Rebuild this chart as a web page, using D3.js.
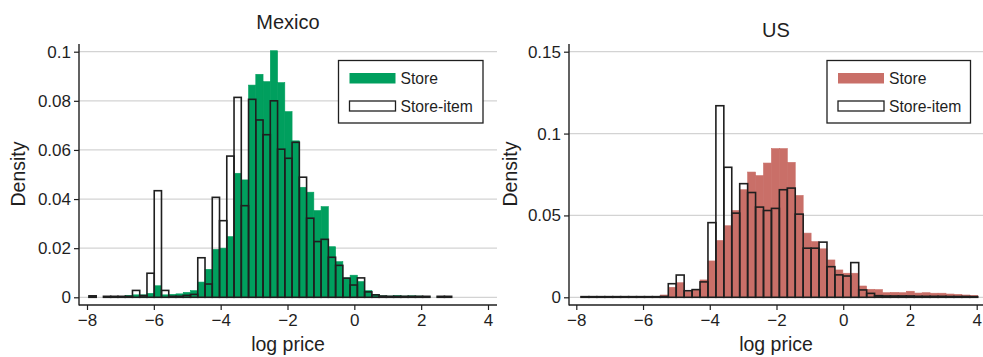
<!DOCTYPE html>
<html>
<head>
<meta charset="utf-8">
<script src="https://cdn.jsdelivr.net/npm/d3@7"></script>
<style>
  html, body { margin: 0; padding: 0; background: #fff; }
  svg { display: block; font-family: "Liberation Sans", Arial, Helvetica, sans-serif; }
</style>
</head>
<body>
<svg id="chart" width="983" height="357"></svg>
<script>
// ---- data: log-price histograms (density per bin), 50 equal-width bins ----
const mexicoBinStart = -7.942;
const mexicoBinWidth = 0.2171;
const mexicoStore = [
  0.0004, 0, 0.0004, 0.0004, 0.0004, 0.0008, 0.0010, 0.0010, 0.0016, 0.0047,
  0.0010, 0.0012, 0.0014, 0.0020, 0.0027, 0.0062, 0.0114, 0.0195, 0.0200, 0.0247,
  0.0505, 0.0478, 0.0864, 0.0908, 0.0878, 0.1004, 0.0874, 0.0756, 0.0637, 0.0448,
  0.0428, 0.0353, 0.0369, 0.0206, 0.0145, 0.0079, 0.0090, 0.0064, 0.0027, 0.0012,
  0.0006, 0.0005, 0.0007, 0.0005, 0.0006, 0.0005, 0.0004, 0, 0.0004, 0.0004
];
const mexicoStoreItem = [
  0.0006, 0, 0.0004, 0.0004, 0.0004, 0.0004, 0.0028, 0.0007, 0.0098, 0.0434,
  0.0028, 0.0004, 0.0004, 0.0008, 0.0012, 0.0161, 0.0054, 0.0407, 0.0312, 0.0575,
  0.0814, 0.0373, 0.0806, 0.0722, 0.0662, 0.0800, 0.0603, 0.0566, 0.0631, 0.0489,
  0.0322, 0.0227, 0.0236, 0.0163, 0.0130, 0.0078, 0.0050, 0.0079, 0.0022, 0.0010,
  0.0005, 0.0004, 0.0004, 0.0004, 0.0004, 0.0004, 0.0004, 0, 0.0004, 0.0004
];

const usBinStart = -7.859;
const usBinWidth = 0.2378;
const usStore = [
  0.0005, 0.0005, 0.0005, 0.0005, 0.0005, 0.0005, 0.0005, 0.0005, 0.0005, 0.0005,
  0.0014, 0.0061, 0.0089, 0.0035, 0.0045, 0.0106, 0.0222, 0.0347, 0.0437, 0.0530,
  0.0657, 0.0765, 0.0743, 0.0820, 0.0908, 0.0908, 0.0824, 0.0622, 0.0392, 0.0340,
  0.0296, 0.0228, 0.0167, 0.0147, 0.0147, 0.0069, 0.0049, 0.0047, 0.0028, 0.0030,
  0.0028, 0.0037, 0.0026, 0.0028, 0.0025, 0.0025, 0.0020, 0.0018, 0.0014, 0.0012
];
const usStoreItem = [
  0.0004, 0.0004, 0.0004, 0.0004, 0.0004, 0.0004, 0.0004, 0.0004, 0.0004, 0.0004,
  0.0005, 0.0083, 0.0136, 0.0040, 0.0047, 0.0094, 0.0456, 0.1170, 0.0794, 0.0514,
  0.0694, 0.0640, 0.0551, 0.0530, 0.0543, 0.0657, 0.0667, 0.0508, 0.0300, 0.0300,
  0.0337, 0.0187, 0.0137, 0.0130, 0.0212, 0.0045, 0.0024, 0.0010, 0.0008, 0.0008,
  0.0008, 0.0008, 0.0006, 0.0006, 0.0006, 0.0006, 0.0005, 0.0005, 0.0005, 0.0004
];

// ---- axis ticks and labels ----
const xTicks = [-8, -6, -4, -2, 0, 2, 4];
const mexicoYTicks = [0, 0.02, 0.04, 0.06, 0.08, 0.1];
const usYTicks = [0, 0.05, 0.1, 0.15];
const legendLabels = ["Store", "Store-item"];
const xTitle = "log price";
const yTitle = "Density";

// ---- drawing ----
const svg = d3.select("#chart");
const ink = "#1f1f1f";

function drawPanel(opt) {
  const g = svg.append("g");
  const x = d3.scaleLinear().domain([-8, 4]).range(opt.xRange);
  const y = d3.scaleLinear().domain([0, opt.yMax]).range([297.3, 51.7]);
  const axisY = 305, topY = 44;

  // horizontal gridlines
  g.append("g").selectAll("line").data(opt.yTicks).join("line")
    .attr("x1", opt.left).attr("x2", opt.right)
    .attr("y1", d => y(d)).attr("y2", d => y(d))
    .attr("stroke", "#d3d3d3").attr("stroke-width", 1.2);

  const bins = (vals) => vals.map((v, i) => ({
    x0: opt.binStart + i * opt.binWidth,
    x1: opt.binStart + (i + 1) * opt.binWidth,
    v
  }));

  // filled store histogram
  g.append("g").selectAll("rect").data(bins(opt.store).filter(d => d.v > 0)).join("rect")
    .attr("x", d => x(d.x0)).attr("width", d => x(d.x1) - x(d.x0))
    .attr("y", d => y(d.v)).attr("height", d => y(0) - y(d.v))
    .attr("fill", opt.color)
    .attr("stroke", opt.color).attr("stroke-width", 0.6);

  // outlined store-item histogram
  g.append("g").selectAll("rect").data(bins(opt.item).filter(d => d.v > 0)).join("rect")
    .attr("x", d => x(d.x0)).attr("width", d => x(d.x1) - x(d.x0))
    .attr("y", d => y(d.v)).attr("height", d => y(0) - y(d.v))
    .attr("fill", "none")
    .attr("stroke", ink).attr("stroke-width", 1.6);

  // y axis
  const ya = g.append("g").attr("transform", `translate(${opt.left},0)`)
    .call(d3.axisLeft(y).tickValues(opt.yTicks).tickSize(5).tickPadding(3)
      .tickFormat(d => d === 0 ? "0" : String(+d.toFixed(2))));
  ya.select(".domain").remove();
  ya.selectAll(".tick line").attr("stroke", ink).attr("stroke-width", 1.2);
  ya.selectAll(".tick text").attr("fill", ink).attr("font-size", 17)
    .attr("font-family", "Liberation Sans, Arial, sans-serif");
  g.append("line").attr("x1", opt.left).attr("x2", opt.left)
    .attr("y1", topY).attr("y2", axisY + 0.6)
    .attr("stroke", ink).attr("stroke-width", 1.4);

  // x axis
  const xa = g.append("g").attr("transform", `translate(0,${axisY})`)
    .call(d3.axisBottom(x).tickValues(xTicks).tickSize(5).tickPadding(4)
      .tickFormat(d => d < 0 ? "\u2212" + Math.abs(d) : String(d)));
  xa.select(".domain").remove();
  xa.selectAll(".tick line").attr("stroke", ink).attr("stroke-width", 1.2);
  xa.selectAll(".tick text").attr("fill", ink).attr("font-size", 17)
    .attr("font-family", "Liberation Sans, Arial, sans-serif");
  g.append("line").attr("x1", opt.left).attr("x2", opt.right)
    .attr("y1", axisY).attr("y2", axisY)
    .attr("stroke", ink).attr("stroke-width", 1.4);

  // titles
  const cx = (opt.left + opt.right) / 2;
  g.append("text").attr("x", cx).attr("y", opt.titleY)
    .attr("text-anchor", "middle").attr("font-size", 20).attr("fill", ink)
    .text(opt.title);
  g.append("text").attr("x", cx).attr("y", 351)
    .attr("text-anchor", "middle").attr("font-size", 19.5).attr("fill", ink)
    .text(xTitle);
  g.append("text")
    .attr("transform", `translate(${opt.yTitleX},174) rotate(-90)`)
    .attr("text-anchor", "middle").attr("font-size", 19.5).attr("fill", ink)
    .text(yTitle);

  // legend
  const L = opt.legend;
  const lg = g.append("g").attr("transform", `translate(${L.x},${L.y})`);
  lg.append("rect").attr("width", L.w).attr("height", 62.5)
    .attr("fill", "#fff").attr("stroke", ink).attr("stroke-width", 1.3);
  lg.append("rect").attr("x", 11).attr("y", 12.5).attr("width", 46).attr("height", 10.5)
    .attr("fill", opt.color);
  lg.append("rect").attr("x", 11).attr("y", 40.5).attr("width", 46).attr("height", 10)
    .attr("fill", "#fff").attr("stroke", ink).attr("stroke-width", 1.3);
  lg.selectAll("text.lab").data(legendLabels).join("text").attr("class", "lab")
    .attr("x", 62).attr("y", (d, i) => 23.5 + i * 28)
    .attr("font-size", 15.7).attr("fill", ink)
    .text(d => d);
}

drawPanel({
  title: "Mexico", titleY: 29,
  left: 79, right: 497, xRange: [87, 488], yMax: 0.1, yTicks: mexicoYTicks,
  binStart: mexicoBinStart, binWidth: mexicoBinWidth,
  store: mexicoStore, item: mexicoStoreItem,
  color: "#009f5e", yTitleX: 25,
  legend: { x: 338.5, y: 60.5, w: 144.5 }
});

drawPanel({
  title: "US", titleY: 37,
  left: 569, right: 983, xRange: [576.3, 976.7], yMax: 0.15, yTicks: usYTicks,
  binStart: usBinStart, binWidth: usBinWidth,
  store: usStore, item: usStoreItem,
  color: "#c96f68", yTitleX: 517,
  legend: { x: 827, y: 60.5, w: 143.5 }
});
</script>
</body>
</html>
